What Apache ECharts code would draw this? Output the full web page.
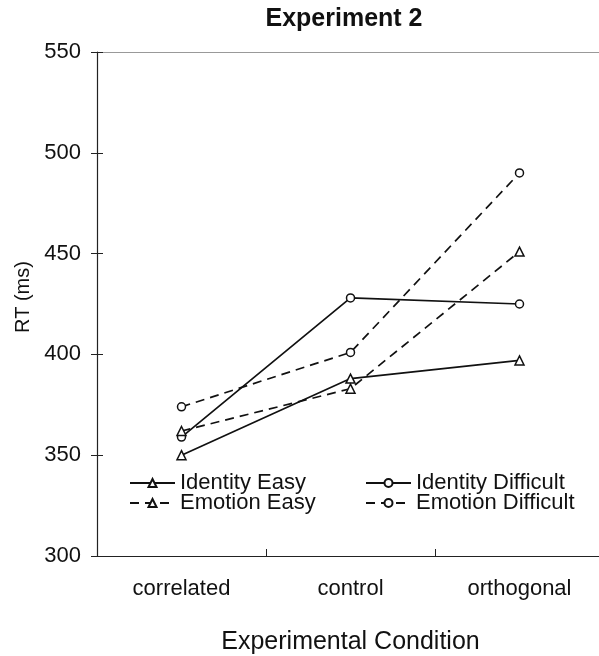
<!DOCTYPE html>
<html>
<head>
<meta charset="utf-8">
<script src="https://cdn.jsdelivr.net/npm/echarts@6/dist/echarts.min.js"></script>
<style>
  html, body { margin: 0; padding: 0; background: #fff; }
  #chart { width: 599px; height: 656px; }
</style>
</head>
<body>
<div id="chart"></div>
<script>
// 数据
var categories = ['correlated', 'control', 'orthogonal'];
var identityEasy = [350, 388, 397];
var identityDifficult = [359, 428, 425];
var emotionEasy = [362, 383, 451];
var emotionDifficult = [374, 401, 490];

var font = 'Liberation Sans, Arial, Helvetica, sans-serif';

var myChart = echarts.init(document.getElementById('chart'));

function makeSeries(name, data, symbol, dashed) {
    return {
        name: name,
        type: 'line',
        data: data,
        symbol: symbol,
        symbolSize: symbol == 'triangle' ? 9 : 8,
        showSymbol: true,
        itemStyle: { color: '#fff', borderColor: '#111', borderWidth: 1.5 },
        lineStyle: { color: '#111', width: 1.7, type: dashed ? [9, 6] : 'solid' },
        z: 3
    };
}

var legendText = { fontFamily: font, fontSize: 22, color: '#111', lineHeight: 18 };

var option = {
    animation: false,
    title: {
        text: 'Experiment 2',
        left: 344,
        textAlign: 'center',
        top: 7,
        padding: 0,
        textStyle: { fontFamily: font, fontSize: 25, fontWeight: 'bold', color: '#111' }
    },
    grid: { left: 97, right: -5, top: 52, bottom: 100, outerBoundsMode: 'none' },
    legend: [
        {
            data: ['Identity Easy', 'Emotion Easy'],
            orient: 'vertical',
            left: 129,
            top: 472,
            padding: 0,
            itemWidth: 45,
            itemHeight: 10,
            itemGap: -2,
            textStyle: legendText
        },
        {
            data: ['Identity Difficult', 'Emotion Difficult'],
            orient: 'vertical',
            left: 365,
            top: 472,
            padding: 0,
            itemWidth: 45,
            itemHeight: 10,
            itemGap: -2,
            textStyle: legendText
        }
    ],
    xAxis: [
        {
            type: 'category',
            data: categories,
            name: 'Experimental Condition',
            nameLocation: 'middle',
            nameGap: 74,
            nameTextStyle: { fontFamily: font, fontSize: 25, color: '#111' },
            axisLine: { lineStyle: { color: '#222', width: 1.2 } },
            axisTick: { length: 7, lineStyle: { color: '#222' } },
            axisLabel: { margin: 22, fontFamily: font, fontSize: 22, color: '#111' }
        },
        {
            // 刻度穿过坐标轴
            type: 'category',
            data: categories,
            position: 'bottom',
            offset: -7,
            axisLine: { show: true, lineStyle: { color: '#fff', opacity: 0 } },
            axisTick: { show: true, length: 7, lineStyle: { color: '#222' } },
            axisLabel: { show: false }
        },
        {
            type: 'category',
            data: categories,
            position: 'top',
            axisLine: { lineStyle: { color: '#999', width: 1 } },
            axisTick: { show: false },
            axisLabel: { show: false }
        }
    ],
    yAxis: [
        {
            type: 'value',
            min: 300,
            max: 550,
            interval: 50,
            name: 'RT (ms)',
            nameLocation: 'middle',
            nameGap: 64,
            nameRotate: 90,
            nameTextStyle: { fontFamily: font, fontSize: 20, color: '#111', padding: [0, 0, 0, 14] },
            axisLine: { show: true, lineStyle: { color: '#222', width: 1.2 } },
            axisTick: { show: true, length: 6, lineStyle: { color: '#222' } },
            axisLabel: { margin: 16, fontFamily: font, fontSize: 22, color: '#111' },
            splitLine: { show: false }
        },
        {
            type: 'value',
            min: 300,
            max: 550,
            interval: 50,
            position: 'left',
            offset: -6,
            axisLine: { show: true, lineStyle: { color: '#fff', opacity: 0 } },
            axisTick: { show: true, length: 6, lineStyle: { color: '#222' } },
            axisLabel: { show: false },
            splitLine: { show: false }
        }
    ],
    series: [
        makeSeries('Identity Easy', identityEasy, 'triangle', false),
        makeSeries('Identity Difficult', identityDifficult, 'circle', false),
        makeSeries('Emotion Easy', emotionEasy, 'triangle', true),
        makeSeries('Emotion Difficult', emotionDifficult, 'circle', true)
    ]
};

myChart.setOption(option);
</script>
</body>
</html>
